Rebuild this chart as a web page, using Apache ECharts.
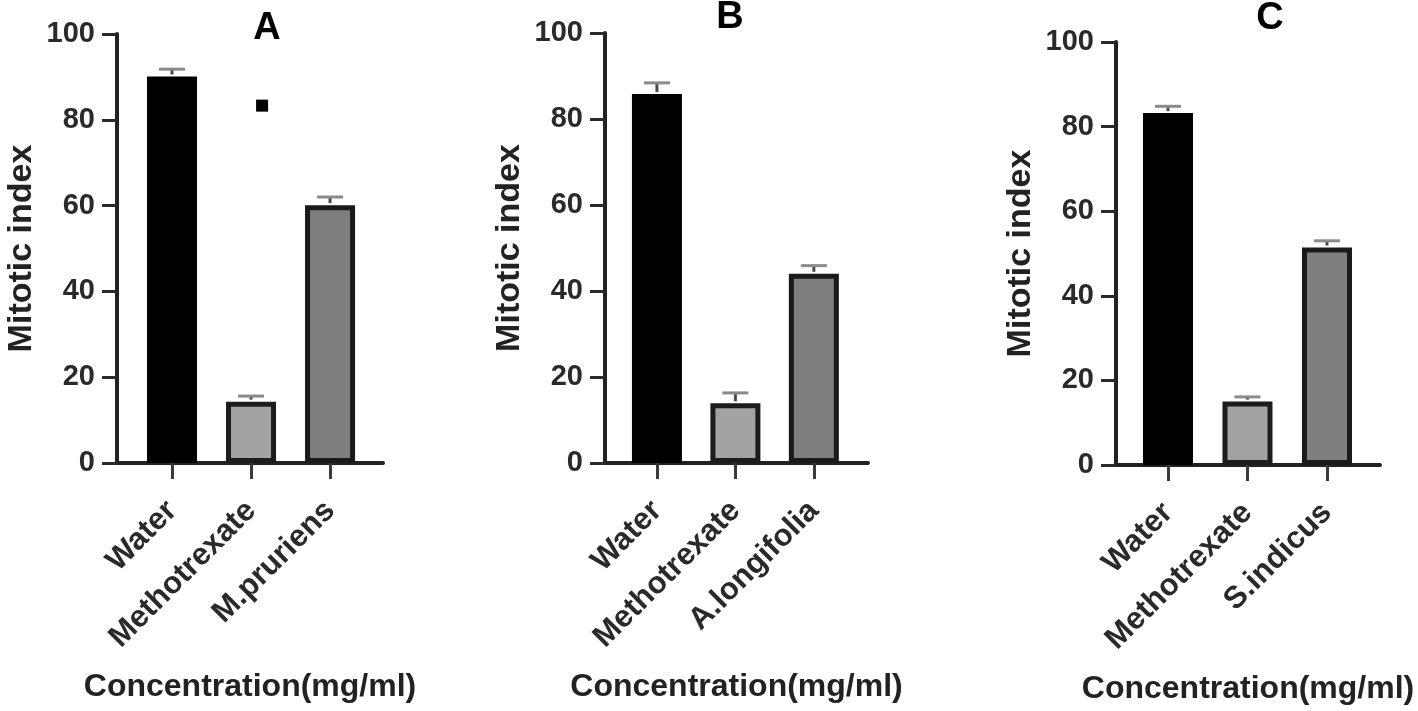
<!DOCTYPE html>
<html>
<head>
<meta charset="utf-8">
<script src="https://cdn.jsdelivr.net/npm/echarts@6/dist/echarts.min.js"></script>
<style>
html,body{margin:0;padding:0;background:#fff;}
#chart{width:1418px;height:711px;}
</style>
</head>
<body>
<div id="chart"></div>
<script>
// ---- data ----
const categoriesA = ['Water', 'Methotrexate', 'M.pruriens'];
const categoriesB = ['Water', 'Methotrexate', 'A.longifolia'];
const categoriesC = ['Water', 'Methotrexate', 'S.indicus'];
const meanA = [90.1, 14.3, 60.1];
const errA  = [1.7, 1.3, 1.9];
const meanB = [85.8, 13.9, 44.0];
const errB  = [2.6, 2.4, 1.9];
const meanC = [83.2, 15.0, 51.4];
const errC  = [1.6, 1.1, 1.6];
const yTicks = [0, 20, 40, 60, 80, 100];
const panelTitles = ['A', 'B', 'C'];
const strayMarkA = [[1.14, 83.3]];
const xAxisName = 'Concentration(mg/ml)';
const yAxisName = 'Mitotic index';

const FONT = "'Liberation Sans', Arial, sans-serif";
const fills = ['#000000', '#a3a3a3', '#7e7e7e'];
const borders = ['#000000', '#1c1c1c', '#1a1a1a'];

const panels = [
  {cats: categoriesA, mean: meanA, err: errA, grid: {left: 117, width: 266, top: 34, height: 429}, min: -0.696, max: 2.67},
  {cats: categoriesB, mean: meanB, err: errB, grid: {left: 605, width: 263, top: 33, height: 430}, min: -0.662, max: 2.69},
  {cats: categoriesC, mean: meanC, err: errC, grid: {left: 1116, width: 264, top: 42, height: 423}, min: -0.654, max: 2.667}
];
const titlePos = [[267, 29], [730, 18], [1270, 19]];

const grids = [], xAxes = [], yAxes = [], series = [];
panels.forEach((p, i) => {
  grids.push(Object.assign({containLabel: false}, p.grid));
  xAxes.push({
    type: 'value', gridIndex: i, min: p.min, max: p.max,
    splitLine: {show: false},
    axisLine: {show: true, onZero: false, lineStyle: {color: '#222', width: 4}},
    axisTick: {show: true, customValues: [0, 1, 2], length: 16, lineStyle: {color: '#3a3a3a', width: 3}},
    axisLabel: {
      show: true, customValues: [0, 1, 2], rotate: 45, margin: 43,
      formatter: (v) => p.cats[Math.round(v)] || '',
      fontFamily: FONT, fontWeight: 'bold', fontSize: 31, color: '#2a2a2a'
    },
    name: xAxisName, nameLocation: 'middle', nameGap: 208,
    nameTextStyle: {fontFamily: FONT, fontWeight: 'bold', fontSize: 32, color: '#222'}
  });
  yAxes.push({
    type: 'value', gridIndex: i, min: 0, max: 100, interval: 20,
    splitLine: {show: false},
    axisLine: {show: true, onZero: false, lineStyle: {color: '#222', width: 4}},
    axisTick: {show: true, length: 15, lineStyle: {color: '#2a2a2a', width: 3}},
    axisLabel: {
      margin: 22, fontFamily: FONT, fontWeight: 'bold', fontSize: 29, color: '#2a2a2a',
      formatter: (v) => yTicks.indexOf(v) >= 0 ? String(v) : ''
    },
    name: yAxisName, nameLocation: 'middle', nameGap: 78,
    nameTextStyle: {fontFamily: FONT, fontWeight: 'bold', fontSize: 34, color: '#222'}
  });
  series.push({
    type: 'bar', xAxisIndex: i, yAxisIndex: i, barWidth: 50, z: 2,
    data: p.mean.map((m, j) => ({
      value: [j, m],
      itemStyle: {color: fills[j], borderColor: borders[j], borderWidth: 5, opacity: 1}
    }))
  });
  series.push({
    type: 'custom', xAxisIndex: i, yAxisIndex: i, z: 3,
    encode: {x: 0, y: 1},
    data: p.mean.map((m, j) => [j, m, p.err[j]]),
    renderItem: (params, api) => {
      const x = api.value(0), m = api.value(1), e = api.value(2);
      const base = api.coord([x, m]);
      const top = api.coord([x, m + e]);
      return {
        type: 'group',
        children: [
          {type: 'line', shape: {x1: top[0], y1: base[1] - 2, x2: top[0], y2: top[1]}, style: {stroke: '#4a4a4a', lineWidth: 3}},
          {type: 'line', shape: {x1: top[0] - 13, y1: top[1], x2: top[0] + 13, y2: top[1]}, style: {stroke: '#8a8a8a', lineWidth: 3}}
        ]
      };
    }
  });
});
series.push({
  type: 'scatter', xAxisIndex: 0, yAxisIndex: 0, symbol: 'rect', symbolSize: 12,
  itemStyle: {color: '#000', opacity: 1}, data: strayMarkA, z: 4
});

const chart = echarts.init(document.getElementById('chart'));
chart.setOption({
  animation: false,
  backgroundColor: '#ffffff',
  grid: grids,
  xAxis: xAxes,
  yAxis: yAxes,
  series: series,
  graphic: panelTitles.map((t, i) => ({
    type: 'text', x: titlePos[i][0], y: titlePos[i][1],
    style: {text: t, fontFamily: FONT, fontWeight: 'bold', fontSize: 38, fill: '#000', align: 'center', verticalAlign: 'middle'}
  }))
});
</script>
</body>
</html>
